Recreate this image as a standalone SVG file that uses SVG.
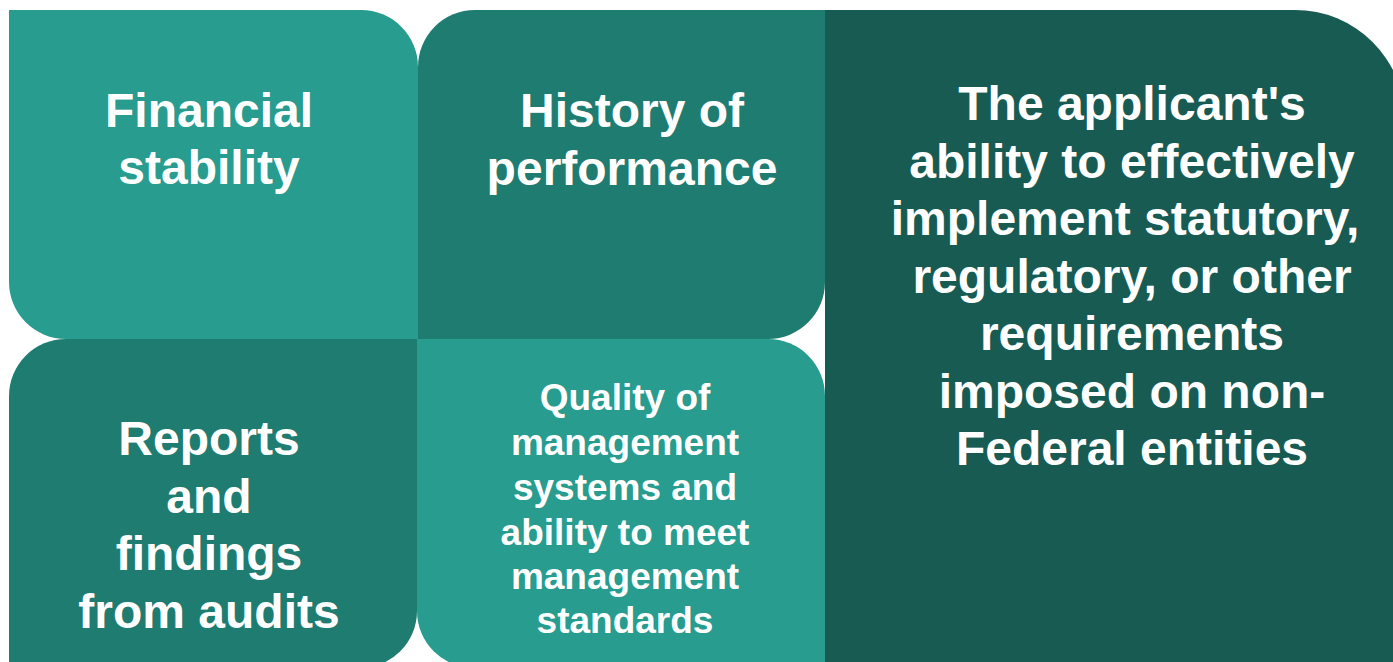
<svg xmlns="http://www.w3.org/2000/svg" width="1393" height="662" viewBox="0 0 1393 662">
<style>
.light{fill:#279C8F}
.mid{fill:#1F7C71}
.dark{fill:#175B53}
text{font-family:"Liberation Sans",Arial,sans-serif;font-weight:bold;fill:#FFFFFF;text-anchor:middle}
.big{font-size:48px}
.small{font-size:37px}
</style>
<rect x="0" y="0" width="1393" height="662" fill="#FFFFFF"/>
<g id="node-requirements">
<path class="dark" d="M825,10 H1295 A110,110 0 0 1 1405,120 V700 H825 Z"/>
<text class="big"><tspan x="1132" y="120">The applicant's</tspan><tspan x="1132" y="178">ability to effectively</tspan><tspan x="1125" y="235">implement statutory,</tspan><tspan x="1132" y="293">regulatory, or other</tspan><tspan x="1132" y="350">requirements</tspan><tspan x="1132" y="408">imposed on non-</tspan><tspan x="1132" y="465">Federal entities</tspan></text>
</g>
<g id="node-financial">
<path class="light" d="M9,10 H361 A57,57 0 0 1 418,67 V339 H66 A57,57 0 0 1 9,282 Z"/>
<text class="big"><tspan x="209" y="127">Financial</tspan><tspan x="209" y="184">stability</tspan></text>
</g>
<g id="node-history">
<path class="mid" d="M475,10 H825 V282 A57,57 0 0 1 768,339 H418 V67 A57,57 0 0 1 475,10 Z"/>
<text class="big"><tspan x="632" y="127">History of</tspan><tspan x="632" y="185">performance</tspan></text>
</g>
<g id="node-reports">
<path class="mid" d="M66,339 H417 V611 A57,57 0 0 1 360,668 H9 V396 A57,57 0 0 1 66,339 Z"/>
<text class="big"><tspan x="209" y="455">Reports</tspan><tspan x="209" y="513">and</tspan><tspan x="209" y="570">findings</tspan><tspan x="209" y="628">from audits</tspan></text>
</g>
<g id="node-quality">
<path class="light" d="M417,339 H768 A57,57 0 0 1 825,396 V668 H474 A57,57 0 0 1 417,611 Z"/>
<text class="small"><tspan x="625" y="410">Quality of</tspan><tspan x="625" y="455">management</tspan><tspan x="625" y="500">systems and</tspan><tspan x="625" y="545">ability to meet</tspan><tspan x="625" y="589">management</tspan><tspan x="625" y="633">standards</tspan></text>
</g>
<g id="connectors"></g>
</svg>
